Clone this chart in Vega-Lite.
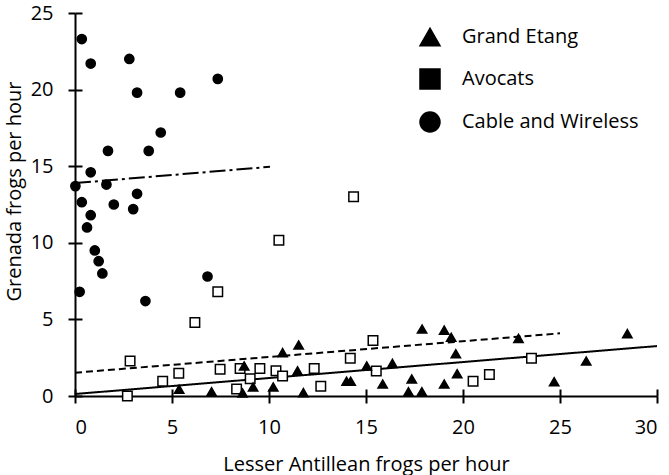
{
  "$schema": "https://vega.github.io/schema/vega-lite/v6.json",
  "width": 582,
  "height": 383,
  "autosize": {"type": "none"},
  "padding": {"left": 75, "top": 13, "right": 12, "bottom": 79},
  "background": "white",
  "config": {"view": {"stroke": null}, "font": "Open Sans"},
  "datasets": {
    "pts": [
      {"series": "Cable and Wireless", "x": 0.35, "y": 23.3},
      {"series": "Cable and Wireless", "x": 0.81, "y": 21.7},
      {"series": "Cable and Wireless", "x": 2.8, "y": 22.0},
      {"series": "Cable and Wireless", "x": 7.36, "y": 20.7},
      {"series": "Cable and Wireless", "x": 3.2, "y": 19.8},
      {"series": "Cable and Wireless", "x": 5.42, "y": 19.8},
      {"series": "Cable and Wireless", "x": 4.42, "y": 17.2},
      {"series": "Cable and Wireless", "x": 1.7, "y": 16.0},
      {"series": "Cable and Wireless", "x": 3.8, "y": 16.0},
      {"series": "Cable and Wireless", "x": 0.81, "y": 14.6},
      {"series": "Cable and Wireless", "x": 0.02, "y": 13.7},
      {"series": "Cable and Wireless", "x": 1.62, "y": 13.8},
      {"series": "Cable and Wireless", "x": 3.2, "y": 13.2},
      {"series": "Cable and Wireless", "x": 0.35, "y": 12.65},
      {"series": "Cable and Wireless", "x": 2.0, "y": 12.5},
      {"series": "Cable and Wireless", "x": 3.0, "y": 12.2},
      {"series": "Cable and Wireless", "x": 0.81, "y": 11.8},
      {"series": "Cable and Wireless", "x": 0.62, "y": 11.0},
      {"series": "Cable and Wireless", "x": 1.02, "y": 9.5},
      {"series": "Cable and Wireless", "x": 1.22, "y": 8.8},
      {"series": "Cable and Wireless", "x": 1.41, "y": 8.0},
      {"series": "Cable and Wireless", "x": 0.24, "y": 6.8},
      {"series": "Cable and Wireless", "x": 6.83, "y": 7.8},
      {"series": "Cable and Wireless", "x": 3.63, "y": 6.2},
      {"series": "Avocats", "x": 10.51, "y": 10.16},
      {"series": "Avocats", "x": 7.36, "y": 6.8},
      {"series": "Avocats", "x": 6.18, "y": 4.8},
      {"series": "Avocats", "x": 2.84, "y": 2.28},
      {"series": "Avocats", "x": 5.35, "y": 1.48},
      {"series": "Avocats", "x": 4.52, "y": 0.96},
      {"series": "Avocats", "x": 2.7, "y": 0.0},
      {"series": "Avocats", "x": 7.48, "y": 1.74},
      {"series": "Avocats", "x": 8.51, "y": 1.8},
      {"series": "Avocats", "x": 9.53, "y": 1.8},
      {"series": "Avocats", "x": 9.03, "y": 1.13},
      {"series": "Avocats", "x": 8.33, "y": 0.45},
      {"series": "Avocats", "x": 10.36, "y": 1.65},
      {"series": "Avocats", "x": 10.7, "y": 1.3},
      {"series": "Avocats", "x": 14.36, "y": 13.0},
      {"series": "Avocats", "x": 15.36, "y": 3.63},
      {"series": "Avocats", "x": 14.19, "y": 2.46},
      {"series": "Avocats", "x": 12.33, "y": 1.8},
      {"series": "Avocats", "x": 15.53, "y": 1.63},
      {"series": "Avocats", "x": 12.67, "y": 0.64},
      {"series": "Avocats", "x": 20.52, "y": 0.96},
      {"series": "Avocats", "x": 21.36, "y": 1.41},
      {"series": "Avocats", "x": 23.53, "y": 2.46},
      {"series": "Grand Etang", "x": 11.53, "y": 3.33},
      {"series": "Grand Etang", "x": 10.7, "y": 2.83},
      {"series": "Grand Etang", "x": 11.47, "y": 1.64},
      {"series": "Grand Etang", "x": 10.22, "y": 0.59},
      {"series": "Grand Etang", "x": 9.18, "y": 0.59},
      {"series": "Grand Etang", "x": 8.72, "y": 1.96},
      {"series": "Grand Etang", "x": 8.64, "y": 0.2},
      {"series": "Grand Etang", "x": 7.04, "y": 0.28},
      {"series": "Grand Etang", "x": 5.37, "y": 0.44},
      {"series": "Grand Etang", "x": 11.77, "y": 0.22},
      {"series": "Grand Etang", "x": 17.89, "y": 4.37},
      {"series": "Grand Etang", "x": 19.03, "y": 4.3},
      {"series": "Grand Etang", "x": 19.39, "y": 3.83},
      {"series": "Grand Etang", "x": 22.86, "y": 3.76},
      {"series": "Grand Etang", "x": 28.47, "y": 4.07},
      {"series": "Grand Etang", "x": 19.63, "y": 2.76},
      {"series": "Grand Etang", "x": 15.04, "y": 1.96},
      {"series": "Grand Etang", "x": 16.36, "y": 2.13},
      {"series": "Grand Etang", "x": 26.35, "y": 2.28},
      {"series": "Grand Etang", "x": 14.0, "y": 0.96},
      {"series": "Grand Etang", "x": 14.21, "y": 0.96},
      {"series": "Grand Etang", "x": 15.86, "y": 0.78},
      {"series": "Grand Etang", "x": 17.36, "y": 1.11},
      {"series": "Grand Etang", "x": 19.7, "y": 1.45},
      {"series": "Grand Etang", "x": 19.03, "y": 0.78},
      {"series": "Grand Etang", "x": 24.7, "y": 0.93},
      {"series": "Grand Etang", "x": 17.19, "y": 0.28},
      {"series": "Grand Etang", "x": 17.88, "y": 0.28}
    ],
    "fits": [
      {"series": "Grand Etang", "x": 0, "y": 0.13},
      {"series": "Grand Etang", "x": 30, "y": 3.26},
      {"series": "Avocats", "x": 0, "y": 1.52},
      {"series": "Avocats", "x": 25, "y": 4.09},
      {"series": "Cable and Wireless", "x": 0, "y": 13.9},
      {"series": "Cable and Wireless", "x": 10.05, "y": 14.96}
    ]
  },
  "layer": [
    {
      "data": {"name": "fits"},
      "mark": {"type": "line", "stroke": "black", "strokeWidth": 2},
      "encoding": {
        "x": {
          "field": "x", "type": "quantitative",
          "scale": {"domain": [0, 30], "nice": false, "zero": false},
          "axis": {"orient": "bottom", "tickSize": -7, "tickWidth": 2, "tickColor": "black", "labels": false, "domain": false, "grid": false, "title": null, "values": [0, 5, 10, 15, 20, 25, 30]}
        },
        "y": {
          "field": "y", "type": "quantitative",
          "scale": {"domain": [0, 25], "nice": false},
          "axis": {"orient": "left", "tickSize": -7, "tickWidth": 2, "tickColor": "black", "labels": false, "domain": false, "grid": false, "title": null, "values": [0, 5, 10, 15, 20, 25]}
        },
        "detail": {"field": "series", "type": "nominal"},
        "strokeDash": {
          "field": "series", "type": "nominal",
          "scale": {"domain": ["Avocats", "Grand Etang", "Cable and Wireless"], "range": [[7, 4], [1, 0], [16, 4, 3, 4]]},
          "legend": null
        }
      }
    },
    {
      "data": {"name": "pts"},
      "mark": {"type": "point", "filled": true, "stroke": "black", "strokeWidth": 1.5, "opacity": 1},
      "encoding": {
        "x": {
          "field": "x", "type": "quantitative",
          "axis": {
            "orient": "bottom", "title": "Lesser Antillean frogs per hour", "values": [0, 5, 10, 15, 20, 25, 30],
            "grid": false, "domainColor": "black", "domainWidth": 2, "tickColor": "black", "tickWidth": 2, "tickSize": 7,
            "labelFont": "Open Sans", "labelFontSize": 20, "labelColor": "black", "labelPadding": 14,
            "titleFont": "Open Sans", "titleFontSize": 20, "titleFontWeight": "normal", "titleColor": "black",
            "titleBaseline": "alphabetic", "titleY": 74
          }
        },
        "y": {
          "field": "y", "type": "quantitative",
          "axis": {
            "orient": "left", "title": "Grenada frogs per hour", "values": [0, 5, 10, 15, 20, 25],
            "grid": false, "domainColor": "black", "domainWidth": 2, "tickColor": "black", "tickWidth": 2, "tickSize": 7,
            "labelFont": "Open Sans", "labelFontSize": 20, "labelColor": "black", "labelPadding": 15,
            "titleFont": "Open Sans", "titleFontSize": 20, "titleFontWeight": "normal", "titleColor": "black",
            "titleAngle": -90, "titleBaseline": "alphabetic", "titleAlign": "center", "titleX": -55, "titleY": 178
          }
        },
        "shape": {
          "field": "series", "type": "nominal",
          "scale": {"domain": ["Grand Etang", "Avocats", "Cable and Wireless"], "range": ["triangle-up", "square", "circle"]},
          "legend": {
            "orient": "none", "legendX": 344, "legendY": 13, "title": null, "padding": 0,
            "labelFont": "Open Sans", "labelFontSize": 20, "labelColor": "black", "labelOffset": 21, "labelLimit": 0,
            "symbolSize": 400, "rowPadding": 17,
            "encode": {
              "symbols": {
                "shape": {"signal": "datum.value === 'Grand Etang' ? 'M-2.7,0H2.7M-0.6,0.5L0,-0.5L0.6,0.5Z' : (datum.value === 'Avocats' ? 'M-2.7,0H-2.1M-1.6,0H-1.0M-0.6,0H-0.42M0.42,0H0.6M1.0,0H1.6M2.1,0H2.7M-0.42,-0.42H0.42V0.42H-0.42Z' : 'M-2.7,0H-1.1M1.1,0H2.7M-0.45,0A0.45,0.45 0 1,0 0.45,0A0.45,0.45 0 1,0 -0.45,0Z')"},
                "fill": {"signal": "datum.value === 'Avocats' ? 'white' : 'black'"},
                "size": {"value": 400},
                "stroke": {"value": "black"},
                "strokeWidth": {"value": 1.5},
                "opacity": {"value": 1}
              }
            }
          }
        },
        "fill": {
          "field": "series", "type": "nominal",
          "scale": {"domain": ["Avocats", "Cable and Wireless", "Grand Etang"], "range": ["white", "black", "black"]},
          "legend": null
        },
        "size": {
          "field": "series", "type": "ordinal",
          "scale": {"domain": ["Cable and Wireless", "Grand Etang", "Avocats"], "range": [85, 90, 50]},
          "legend": null
        }
      }
    }
  ],
  "resolve": {"axis": {"x": "independent", "y": "independent"}}
}
